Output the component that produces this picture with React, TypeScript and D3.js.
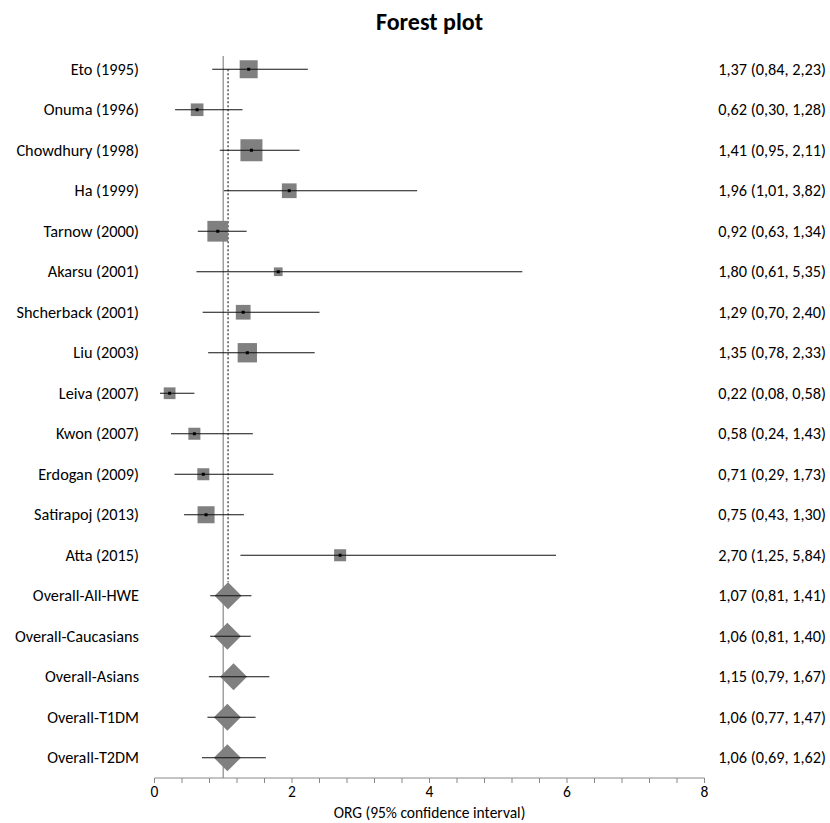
import React from "react";
import * as d3 from "d3";

const studies = [
  "Eto (1995)", "Onuma (1996)", "Chowdhury (1998)", "Ha (1999)", "Tarnow (2000)",
  "Akarsu (2001)", "Shcherback (2001)", "Liu (2003)", "Leiva (2007)", "Kwon (2007)",
  "Erdogan (2009)", "Satirapoj (2013)", "Atta (2015)",
];
const studyOR = [1.37, 0.62, 1.41, 1.96, 0.92, 1.8, 1.29, 1.35, 0.22, 0.58, 0.71, 0.75, 2.7];
const studyLo = [0.84, 0.3, 0.95, 1.01, 0.63, 0.61, 0.7, 0.78, 0.08, 0.24, 0.29, 0.43, 1.25];
const studyHi = [2.23, 1.28, 2.11, 3.82, 1.34, 5.35, 2.4, 2.33, 0.58, 1.43, 1.73, 1.3, 5.84];
const studyWeight = [10.3, 5.1, 15.4, 6.9, 13.7, 2.4, 6.9, 11.9, 4.4, 4.6, 4.6, 9.2, 4.6];

const overall = ["Overall-All-HWE", "Overall-Caucasians", "Overall-Asians", "Overall-T1DM", "Overall-T2DM"];
const overallOR = [1.07, 1.06, 1.15, 1.06, 1.06];
const overallLo = [0.81, 0.81, 0.79, 0.77, 0.69];
const overallHi = [1.41, 1.4, 1.67, 1.47, 1.62];

const xTicks = [0, 2, 4, 6, 8];
const pooledOR = 1.07;

const fmt = (v: number) => v.toFixed(2).replace(".", ",");
const ciText = (m: number, l: number, h: number) => `${fmt(m)} (${fmt(l)}, ${fmt(h)})`;

export default function App() {
  const W = 830, H = 823;
  const font = "Carlito, Calibri, Lato, 'Open Sans', sans-serif";
  const fs = 16.3;
  const labels = [...studies, ...overall];
  const x = d3.scaleLinear().domain([0, 8]).range([154.5, 704.5]);
  const y = d3.scaleBand<string>().domain(labels).range([49, 778]).padding(0);
  const cy = (l: string) => (y(l) as number) + y.bandwidth() / 2;
  const size = d3.scaleSqrt().domain([0, 15.4]).range([0, 22]);
  const minor = d3.range(0, 8.0001, 0.4);
  const axisY = 778;
  const dia = 13.5;

  return (
    <svg width={W} height={H} style={{ position: "absolute", left: 0, top: 0, background: "#fff" }} fontFamily={font}>
      <text x={x(4)} y={30} textAnchor="middle" fontSize={24} fontWeight="bold" fill="#000">Forest plot</text>

      {/* reference line at 1 */}
      <line x1={x(1)} x2={x(1)} y1={56} y2={axisY} stroke="#a0a0a0" strokeWidth={1.5} />
      {/* pooled dashed line */}
      <line x1={x(pooledOR)} x2={x(pooledOR)} y1={cy(studies[0])} y2={cy(overall[0]) - dia}
        stroke="#000" strokeWidth={1} strokeDasharray="2,2" />

      {studies.map((s, i) => {
        const c = cy(s);
        const sz = size(studyWeight[i]);
        return (
          <g key={s}>
            <text x={139} y={c} dy="0.35em" textAnchor="end" fontSize={fs} fill="#000">{s}</text>
            <rect x={x(studyOR[i]) - sz / 2} y={c - sz / 2} width={sz} height={sz} fill="#808080" />
            <line x1={x(studyLo[i])} x2={x(studyHi[i])} y1={c} y2={c} stroke="#111" strokeWidth={1.2} />
            <rect x={x(studyOR[i]) - 1.5} y={c - 1.5} width={3} height={3} fill="#000" />
            <text x={826} y={c} dy="0.35em" textAnchor="end" fontSize={fs} fill="#000">
              {ciText(studyOR[i], studyLo[i], studyHi[i])}
            </text>
          </g>
        );
      })}

      {overall.map((s, i) => {
        const c = cy(s);
        const mx = x(overallOR[i]);
        const path = `M${mx - dia},${c}L${mx},${c - dia}L${mx + dia},${c}L${mx},${c + dia}Z`;
        return (
          <g key={s}>
            <text x={139} y={c} dy="0.35em" textAnchor="end" fontSize={fs} fill="#000">{s}</text>
            <path d={path} fill="#808080" />
            <line x1={x(overallLo[i])} x2={x(overallHi[i])} y1={c} y2={c} stroke="#111" strokeWidth={1.2} />
            <text x={826} y={c} dy="0.35em" textAnchor="end" fontSize={fs} fill="#000">
              {ciText(overallOR[i], overallLo[i], overallHi[i])}
            </text>
          </g>
        );
      })}

      {/* axis */}
      <line x1={x(0)} x2={x(8)} y1={axisY} y2={axisY} stroke="#888" strokeWidth={1} />
      {minor.map((t) => (
        <line key={t} x1={x(t)} x2={x(t)} y1={axisY} y2={axisY + 5} stroke="#888" strokeWidth={1} />
      ))}
      {xTicks.map((t) => (
        <text key={t} x={x(t)} y={797} textAnchor="middle" fontSize={15.5} fill="#000">{t}</text>
      ))}
      <text x={x(4)} y={818} textAnchor="middle" fontSize={15.5} fill="#000">ORG (95% confidence interval)</text>
    </svg>
  );
}
